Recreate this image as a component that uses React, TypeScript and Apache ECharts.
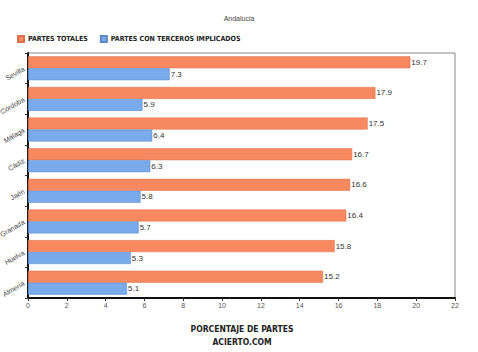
import React, { useEffect, useRef } from "react";
import * as echarts from "echarts";

const categories = ["Sevilla", "Córdoba", "Málaga", "Cádiz", "Jaén", "Granada", "Huelva", "Almería"];
const totales = [19.7, 17.9, 17.5, 16.7, 16.6, 16.4, 15.8, 15.2];
const terceros = [7.3, 5.9, 6.4, 6.3, 5.8, 5.7, 5.3, 5.1];
const seriesNames = ["PARTES TOTALES", "PARTES CON TERCEROS IMPLICADOS"];
const chartTitle = "Andalucia";
const footer = "PORCENTAJE DE PARTES\nACIERTO.COM";

export default function App() {
  const ref = useRef<HTMLDivElement>(null);
  useEffect(() => {
    if (!ref.current) return;
    const chart = echarts.init(ref.current, null, { renderer: "svg" });
    const labelCfg = {
      show: true,
      position: "right",
      distance: 1,
      fontSize: 8,
      fontFamily: "Liberation Sans",
      color: "#333",
      formatter: (p: any) => Number(p.value).toFixed(1),
    };
    chart.setOption({
      animation: false,
      backgroundColor: "#fff",
      title: [
        {
          text: chartTitle,
          left: "center",
          top: 10,
          textStyle: { fontSize: 7, fontWeight: "normal", color: "#444", fontFamily: "Liberation Sans" },
        },
        {
          text: footer,
          left: 237,
          textAlign: "center",
          top: 317,
          textStyle: {
            fontSize: 8.5,
            fontWeight: "bold",
            color: "#222",
            fontFamily: "DejaVu Sans Condensed, Liberation Sans",
            lineHeight: 13,
          },
        },
      ],
      legend: {
        left: 12,
        top: 30,
        itemWidth: 6,
        itemHeight: 6,
        itemGap: 12,
        icon: "rect",
        textStyle: {
          fontSize: 7,
          fontWeight: "bold",
          color: "#222",
          fontFamily: "DejaVu Sans Condensed, Liberation Sans",
          padding: [0, 0, 0, -1],
        },
      },
      grid: {
        left: 28,
        right: 23,
        top: 53,
        bottom: 54,
        show: true,
        borderColor: "#888",
        borderWidth: 1,
        outerBoundsMode: "none",
        containLabel: false,
      },
      xAxis: {
        type: "value",
        min: 0,
        max: 22,
        interval: 2,
        splitLine: { show: false },
        axisLine: { show: true, lineStyle: { color: "#111", width: 2 } },
        axisTick: { show: true, length: 3, lineStyle: { color: "#333" } },
        axisLabel: { fontSize: 7, color: "#555", fontFamily: "Liberation Sans", margin: 4 },
      },
      yAxis: {
        type: "category",
        data: categories,
        inverse: true,
        axisLine: { show: true, lineStyle: { color: "#111", width: 2 } },
        axisTick: { show: true, length: 3, lineStyle: { color: "#333" } },
        axisLabel: { fontSize: 7, color: "#444", rotate: 30, margin: 4, fontFamily: "Liberation Sans" },
      },
      series: [
        {
          name: seriesNames[0],
          type: "bar",
          data: totales,
          barCategoryGap: "22%",
          barGap: "0%",
          itemStyle: { color: "#F88860", borderColor: "#D9704B", borderWidth: 0.5 },
          label: labelCfg,
        },
        {
          name: seriesNames[1],
          type: "bar",
          data: terceros,
          barCategoryGap: "22%",
          barGap: "0%",
          itemStyle: { color: "#78AAEC", borderColor: "#5A88C8", borderWidth: 0.5 },
          label: labelCfg,
        },
      ],
    });
    return () => chart.dispose();
  }, []);
  return <div ref={ref} style={{ position: "fixed", left: 0, top: 0, width: 478, height: 352 }} />;
}
